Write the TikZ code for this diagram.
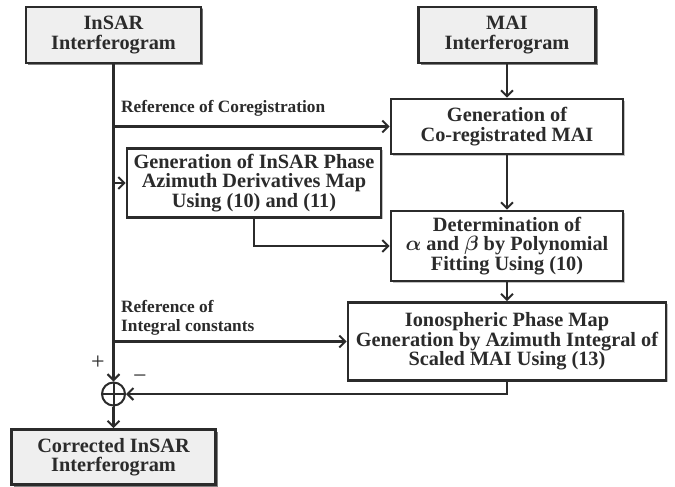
\documentclass[tikz,border=0pt]{standalone}
\usepackage{amsmath}
\usepackage{fontspec}
\setmainfont{Liberation Serif}
\usetikzlibrary{arrows.meta,shadows}
\definecolor{ln}{HTML}{2B2B2B}
\definecolor{boxgray}{HTML}{EFEFEF}
\begin{document}
\begin{tikzpicture}[x=1pt,y=-1pt,
  box/.style={draw=ln,line width=2.6pt,fill=white,align=center,inner sep=0pt,text=ln,
    font=\bfseries\fontsize{20.3}{19.5}\selectfont,
    drop shadow={shadow xshift=1.5pt,shadow yshift=-1.5pt,fill=black!40,opacity=0.6}},
  graybox/.style={box,fill=boxgray,
    drop shadow={shadow xshift=2pt,shadow yshift=-2pt,fill=black!70,opacity=0.7}},
  conn/.style={draw=ln,line width=2.2pt},
  arr/.style={conn,-{Straight Barb[length=6pt,width=12pt,line width=2pt]}},
  lbl/.style={font=\bfseries\fontsize{17.3}{19}\selectfont,inner sep=0pt,align=left,text=ln},
  sgn/.style={font=\fontsize{24}{24}\selectfont,inner sep=0pt,text=ln}]
\useasboundingbox (0,0) rectangle (675,487);
\fill[white] (0,0) rectangle (675,487);

\node[graybox,minimum width=175pt,minimum height=56pt] (insar) at (113.5,35) {InSAR\\Interferogram};
\node[graybox,minimum width=177pt,minimum height=56pt] (mai) at (507,35) {MAI\\Interferogram};
\node[box,minimum width=232pt,minimum height=55pt] (coreg) at (507,126.5) {Generation of\\Co-registrated MAI};
\node[box,minimum width=254pt,minimum height=69pt] (phase) at (254,183) {Generation of InSAR Phase\\Azimuth Derivatives Map\\Using (10) and (11)};
\node[box,minimum width=232pt,minimum height=70pt] (det) at (507,246) {Determination of\\$\boldsymbol{\alpha}$ and $\boldsymbol{\beta}$ by Polynomial\\Fitting Using (10)};
\node[box,minimum width=318pt,minimum height=78pt] (iono) at (507,341.5) {Ionospheric Phase Map\\Generation by Azimuth Integral of\\Scaled MAI Using (13)};
\node[draw=ln,line width=2pt,circle,minimum size=23pt,inner sep=0pt] (sum) at (113.5,394) {};
\draw[conn,line width=2pt] (sum.north) -- (sum.south) (sum.west) -- (sum.east);
\node[graybox,minimum width=204pt,minimum height=55pt] (corr) at (113.5,457) {Corrected InSAR\\Interferogram};

\node[lbl,anchor=base west] (l1) at (121,113) {Reference of Coregistration};
\node[lbl,anchor=south west] (l2) at (121,336) {Reference of\\Integral constants};
\node[sgn] (plus) at (98,363) {+};
\node[sgn] (minus) at (140,379) {−};

\draw[arr] (insar.south) -- (sum.north);
\draw[arr] (insar.south |- coreg.west) -- (coreg.west);
\draw[arr] (insar.south |- phase.west) -- (phase.west);
\draw[arr] (phase.south) -- (phase.south |- det.west) -- (det.west);
\draw[arr] (mai.south) -- (coreg.north);
\draw[arr] (coreg.south) -- (det.north);
\draw[arr] (det.south) -- (iono.north);
\draw[arr] (insar.south |- iono.west) -- (iono.west);
\draw[arr] (iono.south) -- (iono.south |- sum.east) -- (sum.east);
\draw[arr] (sum.south) -- (corr.north);
\end{tikzpicture}
\end{document}
